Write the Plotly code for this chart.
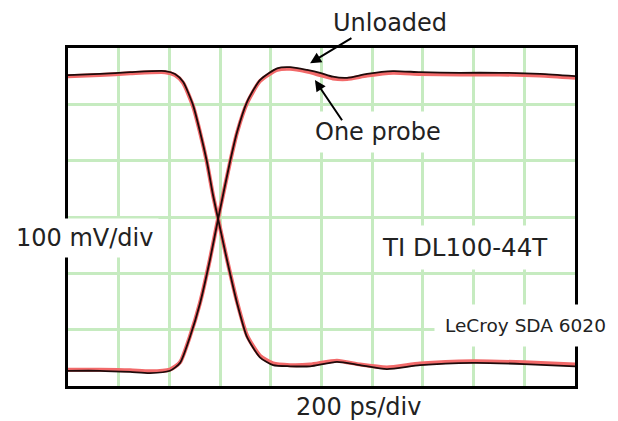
import plotly.graph_objects as go

# time in ps (200 ps/div), voltage in mV (100 mV/div)
fall_t = [0, 126, 245, 383, 422, 454, 493, 521, 548, 572, 592, 627, 667, 706, 757, 809, 876, 955, 1061, 1152, 1258, 1389, 1598, 1799, 2000]
fall_unloaded = [252, 254, 257, 259, 254, 240, 199, 151, 98, 39, -3, -76, -153, -213, -249, -263, -265, -265, -257, -263, -270, -263, -259, -261, -265]
fall_probe = [250, 252, 255, 257, 252, 238, 197, 150, 97, 39, -3, -75, -151, -210, -246, -260, -263, -262, -255, -262, -267, -260, -256, -258, -262]

rise_t = [0, 126, 245, 323, 402, 442, 481, 521, 560, 592, 639, 667, 706, 757, 825, 876, 943, 994, 1045, 1101, 1180, 1282, 1389, 1546, 1704, 1862, 2000]
rise_unloaded = [-273, -273, -275, -277, -273, -259, -213, -153, -76, -4, 98, 151, 204, 243, 264, 266, 261, 256, 249, 247, 254, 259, 257, 256, 256, 254, 250]
rise_probe = [-271, -271, -272, -274, -271, -258, -212, -152, -75, -3, 97, 150, 202, 241, 261, 263, 258, 252, 246, 245, 251, 256, 254, 253, 253, 251, 247]

RED = "#f26a6a"
BLACK = "#1e0a0a"
GRID = "#c6ebc0"
TXT = "#222222"
FONT = "DejaVu Sans"

fig = go.Figure()
for t, v in [(fall_t, fall_probe), (rise_t, rise_probe)]:
    fig.add_trace(go.Scatter(x=t, y=v, mode="lines",
                             line=dict(color=RED, width=4, shape="spline", smoothing=0.6),
                             hoverinfo="skip"))
for t, v in [(fall_t, fall_unloaded), (rise_t, rise_unloaded)]:
    fig.add_trace(go.Scatter(x=t, y=v, mode="lines",
                             line=dict(color=BLACK, width=1.8, shape="spline", smoothing=0.6),
                             hoverinfo="skip"))

axis_common = dict(showgrid=True, gridcolor=GRID, gridwidth=2.5, zeroline=False,
                   showticklabels=False, ticks="", showline=True, linecolor="black",
                   linewidth=2.5, mirror=True)
fig.update_xaxes(range=[0, 2000], dtick=200, tick0=0, **axis_common)
fig.update_yaxes(range=[-300, 300], dtick=100, tick0=-300, **axis_common)

def label(text, x, y, size=24, bg=None, pad=6):
    return dict(text=text, xref="paper", yref="paper", x=x, y=y, showarrow=False,
                xanchor="center", yanchor="middle",
                font=dict(family=FONT, size=size, color=TXT),
                bgcolor=bg if bg else "rgba(0,0,0,0)", borderpad=pad)

def arrow(tx, ty, hx, hy):
    return dict(text="", x=hx, y=hy, xref="x", yref="y", ax=tx, ay=ty,
                axref="x", ayref="y", showarrow=True, arrowhead=2, arrowsize=1.1,
                arrowwidth=2, arrowcolor="black", standoff=0)

fig.update_layout(
    width=610, height=413,
    margin=dict(l=60, r=43, t=40, b=35),
    paper_bgcolor="white", plot_bgcolor="white",
    showlegend=False,
    annotations=[
        label("Unloaded", 0.635, 1.074),
        label("One probe", 0.612, 0.751, bg="white", pad=6),
        label("100 mV/div", 0.0316, 0.438, bg="white", pad=5),
        label("TI DL100-44T", 0.783, 0.411, size=24.5, bg="white", pad=7),
        label("LeCroy SDA 6020", 0.903, 0.178, size=18.5, bg="white", pad=10),
        label("200 ps/div", 0.572, -0.062),
        arrow(1124, 319, 955, 273),
        arrow(1085, 169, 974, 243),
    ],
)

fig.write_html("out.html")
